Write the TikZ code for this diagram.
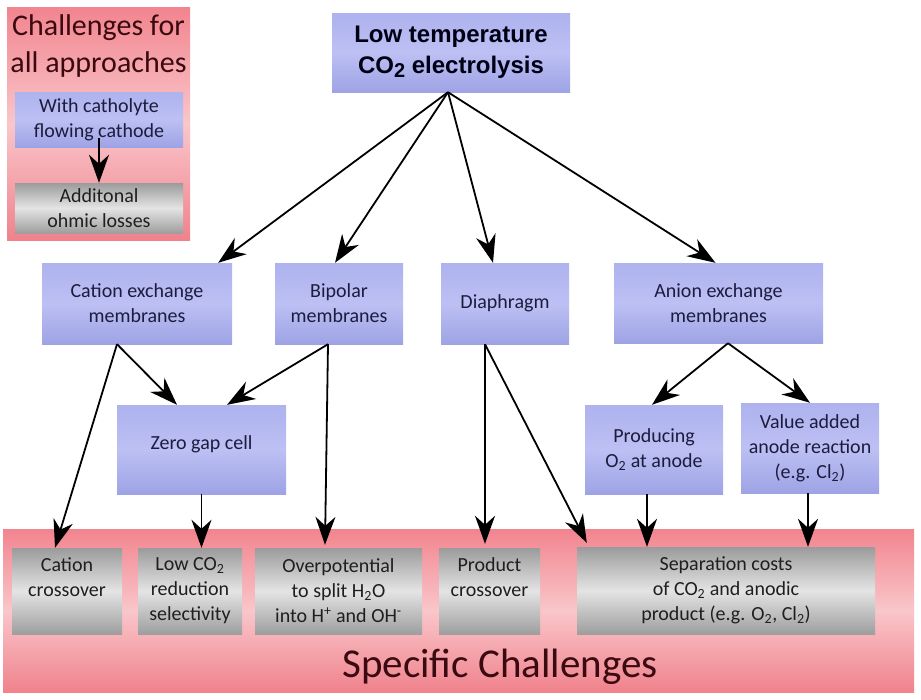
\documentclass[tikz,border=0pt]{standalone}
\usepackage{fontspec}
\setmainfont{Carlito}
\newfontfamily\headfont{Liberation Sans}
\usetikzlibrary{arrows.meta}
\definecolor{blueA}{RGB}{174,178,238}
\definecolor{blueM}{RGB}{188,192,243}
\definecolor{blueB}{RGB}{158,163,229}
\definecolor{greyA}{RGB}{155,155,155}
\definecolor{greyM}{RGB}{228,228,228}
\definecolor{greyB}{RGB}{158,158,158}
\definecolor{pinkA}{RGB}{242,132,142}
\definecolor{pinkM}{RGB}{249,198,202}
\definecolor{pinkB}{RGB}{240,130,140}
\definecolor{navytext}{RGB}{28,28,62}
\definecolor{maroontext}{RGB}{58,10,16}
\begin{document}
\begin{tikzpicture}[x=1pt,y=-1pt,
  boxfont/.style={align=center, font=\fontsize{20}{25}\selectfont},
  bluebox/.style={boxfont, inner sep=0pt, top color=blueA, bottom color=blueB, middle color=blueM, text=navytext},
  greybox/.style={boxfont, inner sep=0pt, top color=greyA, bottom color=greyB, middle color=greyM, text=black!88},
  pinkbox/.style={inner sep=0pt, top color=pinkA, bottom color=pinkB, middle color=pinkM},
  topbox/.style={inner sep=0pt, top color=blueA, bottom color=blueB, middle color=blueM, text=black!92!blue,
    align=center, font=\headfont\bfseries\fontsize{24}{31}\selectfont},
  titletext/.style={align=center, text=maroontext, font=\fontsize{30}{37.5}\selectfont},
  arr/.style={line width=1.8pt, black, -{Stealth[length=28pt,width=20pt,inset=9pt]}},
]
\useasboundingbox (0,0) rectangle (921,699);

% backgrounds
\node[pinkbox, minimum width=183pt, minimum height=233pt] (allbg) at (98.5,123.5) {};
\node[pinkbox, minimum width=911pt, minimum height=163pt] (spec) at (458.5,610.5) {};

% top-left panel
\node[titletext] (alltitle) at (98.5,46) {Challenges for\\all approaches};
\node[bluebox, minimum width=168pt, minimum height=55pt] (cath) at (99,119.5) {With catholyte\\flowing cathode};
\node[greybox, minimum width=168pt, minimum height=50pt] (ohm) at (99,208) {Additonal\\ohmic losses};

% main boxes
\node[topbox, minimum width=238pt, minimum height=79pt] (top) at (451,52.5)
  {Low temperature\\CO\raisebox{-4pt}{\fontsize{20}{20}\selectfont 2} electrolysis};
\node[bluebox, minimum width=190pt, minimum height=81pt] (cem) at (137,303.5) {Cation exchange\\membranes};
\node[bluebox, minimum width=128pt, minimum height=81pt] (bip) at (339,303.5) {Bipolar\\membranes};
\node[bluebox, minimum width=128pt, minimum height=81pt] (dia) at (505,303.5) {Diaphragm};
\node[bluebox, minimum width=209pt, minimum height=80pt] (aem) at (718.5,303) {Anion exchange\\membranes};
\node[bluebox, minimum width=169pt, minimum height=89pt, text depth=13pt] (zgc) at (201.5,449.5) {Zero gap cell};
\node[bluebox, minimum width=138pt, minimum height=89pt] (prod) at (654,449.5) {Producing\\O\textsubscript{2} at anode};
\node[bluebox, minimum width=138pt, minimum height=90pt] (val) at (810,448) {Value added\\anode reaction\\(e.g. Cl\textsubscript{2})};

% specific challenges
\node[greybox, minimum width=110pt, minimum height=86pt, text depth=28pt] (cc) at (67,591) {Cation\\crossover};
\node[greybox, minimum width=104pt, minimum height=86pt] (low) at (190,591) {Low CO\textsubscript{2}\\reduction\\selectivity};
\node[greybox, minimum width=167pt, minimum height=86pt] (over) at (338.5,591) {Overpotential\\to split H\textsubscript{2}O\\into H\textsuperscript{+} and OH\textsuperscript{-}};
\node[greybox, minimum width=101pt, minimum height=86pt, text depth=28pt] (pc) at (489.5,591) {Product\\crossover};
\node[greybox, minimum width=298pt, minimum height=87pt] (sep) at (726,590.5) {Separation costs\\of CO\textsubscript{2} and anodic\\product (e.g. O\textsubscript{2}, Cl\textsubscript{2})};
\node[anchor=base, text=maroontext, font=\fontsize{41}{41}\selectfont] (spectext) at (500,677) {Specific Challenges};

% arrows
\draw[arr] ([yshift=9pt]cath.south) -- (ohm.north);
\draw[arr] ([xshift=-3pt]top.south) -- ([xshift=-14pt]cem.north east);
\draw[arr] ([xshift=-3pt]top.south) -- ([xshift=-4pt]bip.north);
\draw[arr] ([xshift=-3pt]top.south) -- ([xshift=-12pt]dia.north);
\draw[arr] ([xshift=-3pt]top.south) -- ([xshift=-3pt]aem.north);
\draw[arr] ([xshift=-20pt]cem.south) -- ([xshift=-12pt]cc.north);
\draw[arr] ([xshift=-20pt]cem.south) -- ([xshift=-24.5pt]zgc.north);
\draw[arr] ([xshift=-11pt]bip.south) -- ([xshift=25.5pt]zgc.north);
\draw[arr] ([xshift=-11pt]bip.south) -- ([xshift=-13.5pt,yshift=3pt]over.north);
\draw[arr] (zgc.south) -- (zgc.south |- low.north);
\draw[arr] ([xshift=-20pt]dia.south) -- ([xshift=-4.5pt,yshift=4pt]pc.north);
\draw[arr] ([xshift=-20pt]dia.south) -- ([xshift=10pt,yshift=4pt]sep.north west);
\draw[arr] ([xshift=9.5pt]aem.south) -- ([xshift=-2pt]prod.north);
\draw[arr] ([xshift=9.5pt]aem.south) -- (val.north);
\draw[arr] ([xshift=-7pt]prod.south) -- ([xshift=-7pt]prod.south |- sep.north);
\draw[arr] ([xshift=-2pt]val.south) -- ([xshift=-2pt]val.south |- sep.north);
\end{tikzpicture}
\end{document}
